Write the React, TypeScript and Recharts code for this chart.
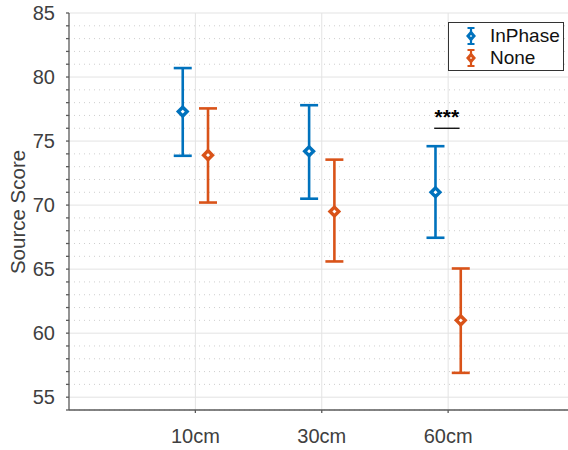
import React from "react";
import {
  ComposedChart,
  Scatter,
  ErrorBar,
  XAxis,
  YAxis,
  CartesianGrid,
  ReferenceLine,
  ReferenceDot,
} from "recharts";

const distances = ["10cm", "30cm", "60cm"];

const inPhaseMean = [77.3, 74.2, 71.0];
const inPhaseUpper = [80.7, 77.8, 74.6];
const inPhaseLower = [73.85, 70.5, 67.45];

const noneMean = [73.9, 69.5, 61.0];
const noneUpper = [77.55, 73.55, 65.05];
const noneLower = [70.2, 65.6, 56.9];

const yTicks = Array.from({ length: 32 }, (_, i) => 54 + i);
const yMajor = [55, 60, 65, 70, 75, 80, 85];
const yMinor = yTicks.filter((v) => v % 5 !== 0);

const BLUE = "#0072BD";
const ORANGE = "#D95319";
const TEXT = "#404040";
const AXIS = "#5a5a5a";
const OFFSET = 0.1;
const FONT = "'Liberation Sans', Arial, sans-serif";

const toRows = (mean: number[], up: number[], lo: number[], shift: number) =>
  mean.map((m, i) => ({
    x: i + 1 + shift,
    y: m,
    err: [m - lo[i], up[i] - m],
  }));

const inPhaseRows = toRows(inPhaseMean, inPhaseUpper, inPhaseLower, -OFFSET);
const noneRows = toRows(noneMean, noneUpper, noneLower, OFFSET);

const diamond = (color: string) => (props: any) => {
  const { cx, cy } = props;
  const r = 4.4;
  return (
    <polygon
      points={`${cx},${cy - r} ${cx + r},${cy} ${cx},${cy + r} ${cx - r},${cy}`}
      fill="#fff"
      stroke={color}
      strokeWidth={3.4}
    />
  );
};

function LegendIcon({ color }: { color: string }) {
  return (
    <svg width={12} height={20} style={{ display: "block" }}>
      <line x1={6} y1={2} x2={6} y2={18} stroke={color} strokeWidth={2.2} />
      <line x1={2.5} y1={2} x2={9.5} y2={2} stroke={color} strokeWidth={2} />
      <line x1={2.5} y1={18} x2={9.5} y2={18} stroke={color} strokeWidth={2} />
      <polygon points="6,6.5 9,10 6,13.5 3,10" fill="#fff" stroke={color} strokeWidth={3} />
    </svg>
  );
}

function LegendBox() {
  const items = [
    { name: "InPhase", color: BLUE },
    { name: "None", color: ORANGE },
  ];
  return (
    <div
      style={{
        position: "absolute",
        left: 448,
        top: 22,
        border: "1.3px solid #333",
        background: "#fff",
        width: 116,
        height: 49,
        boxSizing: "border-box",
        padding: "2px 0 0 16px",
        fontFamily: FONT,
        fontSize: 19,
        color: "#111",
      }}
    >
      {items.map((it) => (
        <div
          key={it.name}
          style={{ display: "flex", alignItems: "center", height: 22, gap: 13 }}
        >
          <LegendIcon color={it.color} />
          <span>{it.name}</span>
        </div>
      ))}
    </div>
  );
}

function YLabel() {
  return (
    <text
      transform="translate(17,212) rotate(-90)"
      textAnchor="middle"
      dominantBaseline="central"
      fill={TEXT}
      fontSize={20.5}
      fontFamily={FONT}
    >
      Source Score
    </text>
  );
}

const Stars = (props: any) => (
  <text
    x={props.cx}
    y={props.cy - 4}
    textAnchor="middle"
    fontSize={21}
    fontWeight="bold"
    fontFamily={FONT}
    fill="#000"
  >
    ***
  </text>
);

export default function App() {
  const tickFont = {
    fontSize: 20,
    fill: TEXT,
    fontFamily: FONT,
  };
  return (
    <div
      style={{
        position: "fixed",
        left: 0,
        top: 0,
        width: 568,
        height: 450,
        overflow: "hidden",
        background: "#fff",
      }}
    >
      <ComposedChart
        width={580}
        height={450}
        margin={{ top: 13, right: 5.5, left: 0, bottom: 0 }}
      >
        <CartesianGrid
          horizontalValues={yMinor}
          vertical={false}
          stroke="#cfcfcf"
          strokeDasharray="1 4"
        />
        <CartesianGrid
          horizontalValues={yMajor}
          verticalValues={[1, 2, 3]}
          stroke="#e3e3e3"
        />
        <XAxis
          type="number"
          dataKey="x"
          domain={[0, 4]}
          ticks={[1, 2, 3]}
          tickFormatter={(v) => distances[v - 1] ?? ""}
          tick={tickFont}
          tickSize={3}
          tickMargin={16}
          height={40}
          axisLine={{ stroke: AXIS, strokeWidth: 1.3 }}
          tickLine={{ stroke: AXIS, strokeWidth: 1.3 }}
          allowDataOverflow
        />
        <YAxis
          type="number"
          dataKey="y"
          domain={[54, 85]}
          ticks={yTicks}
          interval={0}
          tickFormatter={(v) => (v % 5 === 0 && v >= 55 ? String(v) : "")}
          tick={tickFont}
          tickSize={3}
          tickMargin={11}
          width={69}
          axisLine={{ stroke: AXIS, strokeWidth: 1.3 }}
          tickLine={{ stroke: AXIS, strokeWidth: 1.3 }}
          label={<YLabel />}
          allowDataOverflow
        />
        <Scatter
          name="InPhase"
          data={inPhaseRows}
          fill={BLUE}
          shape={diamond(BLUE)}
          isAnimationActive={false}
        >
          <ErrorBar
            dataKey="err"
            direction="y"
            width={9}
            stroke={BLUE}
            strokeWidth={2.6}
            isAnimationActive={false}
          />
        </Scatter>
        <Scatter
          name="None"
          data={noneRows}
          fill={ORANGE}
          shape={diamond(ORANGE)}
          isAnimationActive={false}
        >
          <ErrorBar
            dataKey="err"
            direction="y"
            width={9}
            stroke={ORANGE}
            strokeWidth={2.6}
            isAnimationActive={false}
          />
        </Scatter>
        <ReferenceLine
          segment={[
            { x: 3 - OFFSET - 0.01, y: 76 },
            { x: 3 + OFFSET - 0.01, y: 76 },
          ]}
          stroke="#000"
          strokeWidth={1.3}
        />
        <ReferenceDot x={2.99} y={76} r={0} shape={Stars} />
      </ComposedChart>
      <LegendBox />
    </div>
  );
}
